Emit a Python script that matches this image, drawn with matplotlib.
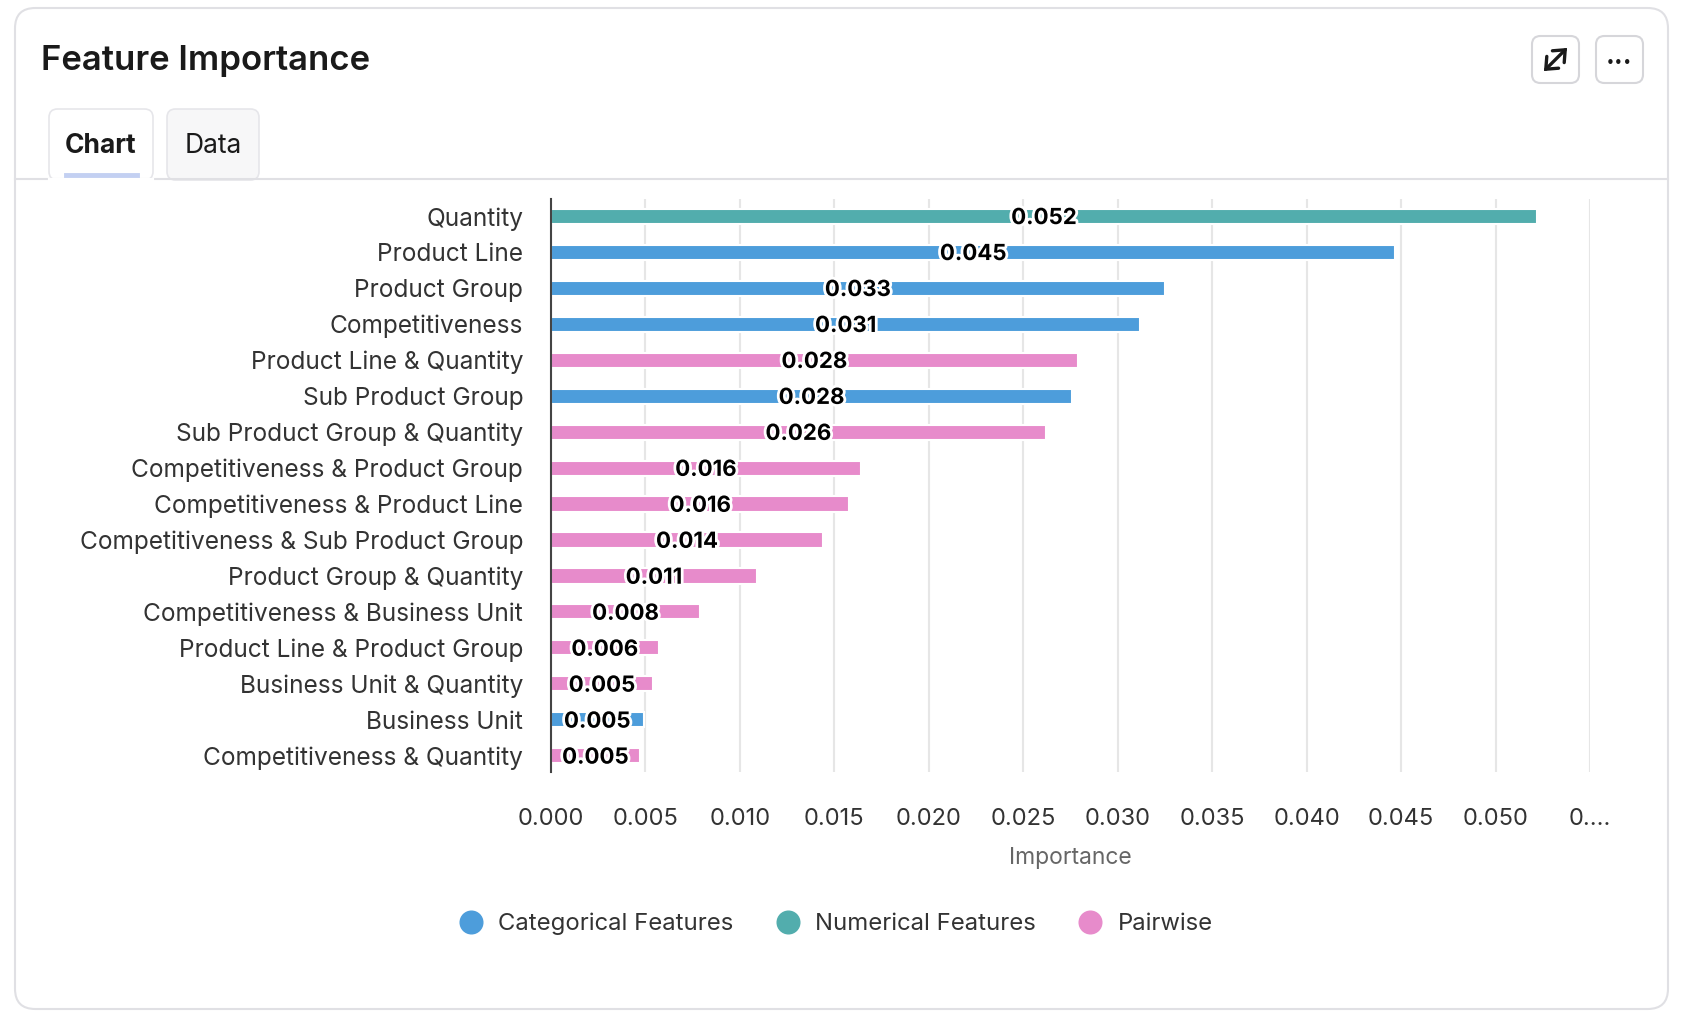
import matplotlib
matplotlib.use("Agg")
import matplotlib.pyplot as plt
import matplotlib.patheffects as pe
from matplotlib.patches import FancyBboxPatch, FancyArrowPatch
from matplotlib.lines import Line2D
import numpy as np

plt.rcParams["font.family"] = ["Inter", "DejaVu Sans"]

# データ
features = [
    "Quantity", "Product Line", "Product Group", "Competitiveness",
    "Product Line & Quantity", "Sub Product Group", "Sub Product Group & Quantity",
    "Competitiveness & Product Group", "Competitiveness & Product Line",
    "Competitiveness & Sub Product Group", "Product Group & Quantity",
    "Competitiveness & Business Unit", "Product Line & Product Group",
    "Business Unit & Quantity", "Business Unit", "Competitiveness & Quantity",
]
importance = [
    0.0522, 0.0447, 0.0325, 0.0312, 0.0279, 0.0276, 0.0262, 0.0164,
    0.0158, 0.0144, 0.0109, 0.0079, 0.0057, 0.0054, 0.0049, 0.0047,
]
groups = [
    "Numerical Features", "Categorical Features", "Categorical Features", "Categorical Features",
    "Pairwise", "Categorical Features", "Pairwise", "Pairwise", "Pairwise", "Pairwise",
    "Pairwise", "Pairwise", "Pairwise", "Pairwise", "Categorical Features", "Pairwise",
]
group_order = ["Categorical Features", "Numerical Features", "Pairwise"]
group_colors = {"Categorical Features": "#4D9DDB", "Numerical Features": "#52ADAD", "Pairwise": "#E78BCB"}
x_ticks = [0.000, 0.005, 0.010, 0.015, 0.020, 0.025, 0.030, 0.035, 0.040, 0.045, 0.050, 0.055]
x_tick_labels = ["0.000", "0.005", "0.010", "0.015", "0.020", "0.025", "0.030",
                 "0.035", "0.040", "0.045", "0.050", "0...."]

W, H = 1694, 1026
fig = plt.figure(figsize=(W / 100, H / 100), dpi=100)


def fx(x):
    return x / W


def fy(y):
    return 1 - y / H


# カード枠
card = FancyBboxPatch((fx(15), fy(1009)), fx(1668 - 15), (1009 - 8) / H,
                      boxstyle="round,pad=0,rounding_size=0.012",
                      transform=fig.transFigure, facecolor="white",
                      edgecolor="#E0E0E4", linewidth=1.5, mutation_aspect=W / H, zorder=-5)
fig.patches.append(card)

fig.text(fx(41), fy(61), "Feature Importance", fontsize=25, fontweight="semibold",
         color="#1A1A1A", va="center", ha="left")

# タブ
fig.patches.append(FancyBboxPatch((fx(167), fy(180)), fx(259 - 167), (180 - 109) / H,
                                  boxstyle="round,pad=0,rounding_size=0.005",
                                  transform=fig.transFigure, facecolor="#F7F7F8",
                                  edgecolor="#E6E6EA", linewidth=1.2, mutation_aspect=W / H))
fig.patches.append(FancyBboxPatch((fx(49), fy(180)), fx(153 - 49), (180 - 109) / H,
                                  boxstyle="round,pad=0,rounding_size=0.005",
                                  transform=fig.transFigure, facecolor="white",
                                  edgecolor="#E6E6EA", linewidth=1.2, mutation_aspect=W / H))
fig.add_artist(Line2D([fx(15), fx(1668)], [fy(179), fy(179)], color="#E0E0E4", lw=1.5))
fig.add_artist(Line2D([fx(50), fx(152)], [fy(180), fy(180)], color="white", lw=3))
fig.add_artist(Line2D([fx(66), fx(137)], [fy(175), fy(175)], color="#C3D0F2", lw=3.5))
fig.text(fx(101), fy(146), "Chart", fontsize=19, fontweight="bold", color="#1A1A1A",
         ha="center", va="center")
fig.text(fx(213), fy(146), "Data", fontsize=19, color="#1A1A1A", ha="center", va="center")

# 右上のボタン
for x0 in (1532, 1596):
    fig.patches.append(FancyBboxPatch((fx(x0), fy(83)), fx(47), 47 / H,
                                      boxstyle="round,pad=0,rounding_size=0.005",
                                      transform=fig.transFigure, facecolor="white",
                                      edgecolor="#D6D6DA", linewidth=1.5, mutation_aspect=W / H))
# 展開アイコン（両矢印）
fig.patches.append(FancyArrowPatch((fx(1544), fy(71)), (fx(1567), fy(48)),
                                   transform=fig.transFigure,
                                   arrowstyle="<->,head_length=0.35,head_width=0.3",
                                   color="#1A1A1A", linewidth=2.4, mutation_scale=20,
                                   shrinkA=0, shrinkB=0, capstyle="round", joinstyle="miter"))
fig.text(fx(1619.5), fy(63), "\u2022\u2022\u2022", fontsize=11, color="#1A1A1A",
         ha="center", va="center", family=["DejaVu Sans"])

# グラフ本体
ax = fig.add_axes([fx(551), fy(772), fx(1590 - 551), (772 - 199) / H])
ax.set_zorder(2)
ax.patch.set_alpha(0)
y = np.arange(len(features))
colors = [group_colors[g] for g in groups]
ax.barh(y, importance, height=0.42, color=colors, edgecolor="white", linewidth=1.5, zorder=3)

for yi, v in zip(y, importance):
    ax.text(v / 2, yi + 0.05, f"{v:.3f}", ha="center", va="center", fontsize=16,
            fontweight="bold", color="black", zorder=4,
            path_effects=[pe.withStroke(linewidth=4, foreground="white")])

ax.set_ylim(15.45, -0.48)
ax.set_xlim(0, 0.055)
ax.set_yticks(y)
ax.set_yticklabels(features, fontsize=17.6, color="#333333")
ax.set_xticks(x_ticks)
ax.set_xticklabels(x_tick_labels, fontsize=17, color="#333333")
ax.tick_params(axis="both", length=0)
ax.tick_params(axis="y", pad=20)
ax.tick_params(axis="x", pad=26)
ax.set_xlabel("Importance", fontsize=16.5, color="#666666", labelpad=12)
ax.grid(axis="x", color="#E6E6E6", linewidth=1.5, zorder=0)
for side in ("top", "right", "bottom"):
    ax.spines[side].set_visible(False)
ax.spines["left"].set_color("#444444")
ax.spines["left"].set_linewidth(1.5)
ax.spines["left"].set_zorder(5)

handles = [Line2D([], [], marker="o", linestyle="", markersize=16.3,
                  markerfacecolor=group_colors[g], markeredgecolor=group_colors[g]) for g in group_order]
fig.legend(handles, group_order, loc="center", bbox_to_anchor=(fx(836), fy(924)),
           ncol=3, frameon=False, fontsize=17.2, handlelength=1.0, handletextpad=0.65,
           columnspacing=1.77, labelcolor="#333333")

fig.savefig("out.png", dpi=100)
plt.close(fig)
